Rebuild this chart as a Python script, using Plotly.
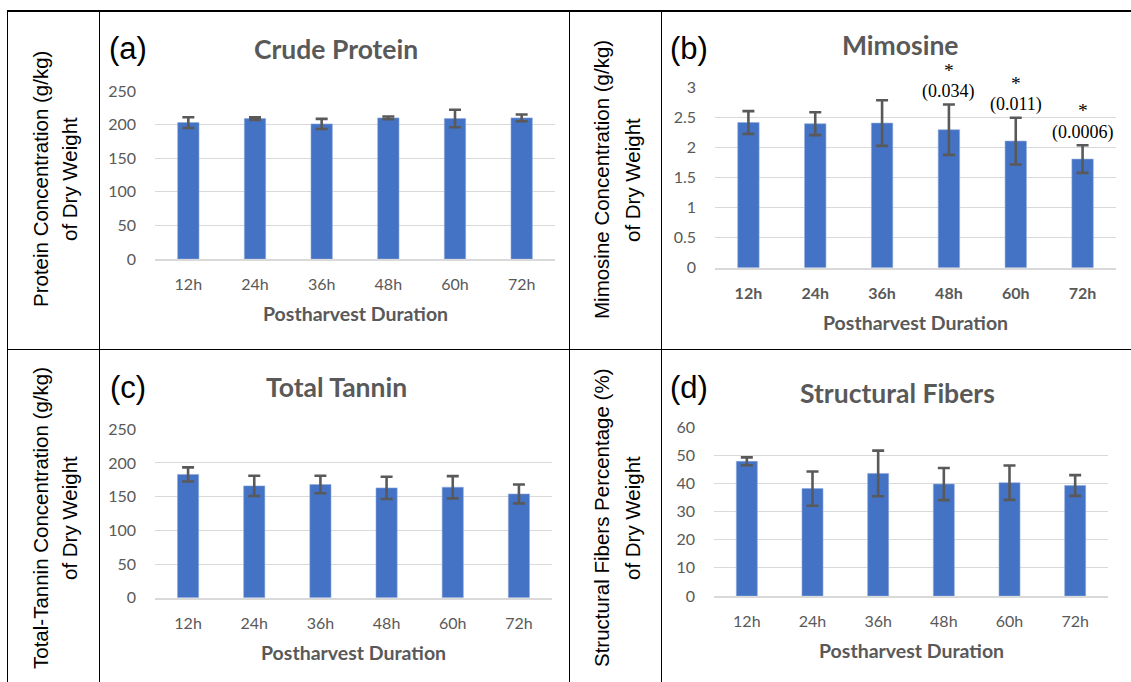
import plotly.graph_objects as go

W, H = 1131, 682

# ---- data -------------------------------------------------------------
durations = ["12h", "24h", "36h", "48h", "60h", "72h"]

protein = [203, 209, 201, 210, 209, 210]
protein_sd = [8, 2, 7.5, 2, 13, 5]

mimosine = [2.42, 2.40, 2.41, 2.30, 2.11, 1.81]
mimosine_sd = [0.19, 0.19, 0.38, 0.42, 0.39, 0.23]
mimosine_p = [None, None, None, "0.034", "0.011", "0.0006"]

tannin = [183, 166, 168, 163, 164, 154]
tannin_sd = [10.5, 15, 13, 16.5, 16.5, 14]

fibers = [47.9, 38.2, 43.6, 39.8, 40.3, 39.3]
fibers_sd = [1.4, 6.1, 8.1, 5.7, 6.1, 3.7]

# ---- styling ----------------------------------------------------------
BAR = "#4472C4"
GREY = "#595959"
GRID = "#D9D9D9"
SANS = "Lato"
ARIAL = "Liberation Sans"
SERIF = "Liberation Serif"


def px_x(v):
    return v / W


def px_y(v):
    return 1 - v / H


panels = [
    dict(vals=protein, sd=protein_sd, xd=(155, 555), yd=(91, 259), rng=250, dt=50, bold=False,
         title="Crude Protein", tpos=(336, 49), letter="(a)", lpos=(107, 48),
         ylab=("Protein Concentration (g/kg)", "of Dry Weight"), ypos=(40, 69, 179),
         xt=313),
    dict(vals=mimosine, sd=mimosine_sd, xd=(715, 1116), yd=(87.7, 267.7), rng=3, dt=0.5, bold=True,
         title="Mimosine", tpos=(900, 45), letter="(b)", lpos=(668, 48),
         ylab=("Mimosine Concentration (g/kg)", "of Dry Weight"), ypos=(601, 632, 180),
         xt=322),
    dict(vals=tannin, sd=tannin_sd, xd=(155, 552), yd=(429.3, 597.7), rng=250, dt=50, bold=False,
         title="Total Tannin", tpos=(336, 387), letter="(c)", lpos=(108, 387),
         ylab=("Total-Tannin Concentration (g/kg)", "of Dry Weight"), ypos=(40, 69, 518),
         xt=652),
    dict(vals=fibers, sd=fibers_sd, xd=(714, 1108), yd=(427.3, 596), rng=60, dt=10, bold=False,
         title="Structural Fibers", tpos=(897, 393), letter="(d)", lpos=(668, 387),
         ylab=("Structural Fibers Percentage (%)", "of Dry Weight"), ypos=(601, 632, 518),
         xt=650),
]

fig = go.Figure()
annotations = []

for i, p in enumerate(panels, start=1):
    xa = "x" if i == 1 else f"x{i}"
    ya = "y" if i == 1 else f"y{i}"
    fig.add_trace(go.Bar(
        x=durations, y=p["vals"], xaxis=xa, yaxis=ya, width=0.32,
        marker=dict(color=BAR, line=dict(color="#8FAADC", width=0.6)),
        error_y=dict(type="data", array=p["sd"], visible=True,
                     color=GREY, thickness=2.6, width=6),
        showlegend=False, hoverinfo="skip",
    ))

    tickfont = dict(family=SANS, size=16, color=GREY)
    xfont = dict(tickfont)
    if p["bold"]:
        xfont["weight"] = "bold"
    fig.layout[f"xaxis{'' if i == 1 else i}"] = dict(
        domain=[px_x(p["xd"][0]), px_x(p["xd"][1])], anchor=ya, automargin=False,
        type="category", showgrid=False, showline=True, linecolor=GRID, linewidth=1.5,
        ticks="", tickfont=xfont, ticklabelstandoff=10, fixedrange=True,
    )
    fig.layout[f"yaxis{'' if i == 1 else i}"] = dict(
        domain=[px_y(p["yd"][1]), px_y(p["yd"][0])], anchor=xa, automargin=False,
        range=[0, p["rng"]], dtick=p["dt"], tick0=0,
        showgrid=True, gridcolor=GRID, gridwidth=1, zeroline=False, showline=False,
        ticks="", tickfont=tickfont, ticklabelstandoff=18, fixedrange=True,
    )

    # chart title
    annotations.append(dict(
        text=p["title"], x=px_x(p["tpos"][0]), y=px_y(p["tpos"][1]),
        xref="paper", yref="paper", xanchor="center", yanchor="middle", showarrow=False,
        font=dict(family=SANS, size=26.5, color=GREY, weight="bold"),
    ))
    # panel letter
    annotations.append(dict(
        text=p["letter"], x=px_x(p["lpos"][0]), y=px_y(p["lpos"][1]),
        xref="paper", yref="paper", xanchor="left", yanchor="middle", showarrow=False,
        font=dict(family=ARIAL, size=31, color="#000000"),
    ))
    # x-axis title
    annotations.append(dict(
        text="Postharvest Duration", x=(px_x(p["xd"][0]) + px_x(p["xd"][1])) / 2,
        y=px_y(p["xt"]), xref="paper", yref="paper", xanchor="center", yanchor="middle",
        showarrow=False, font=dict(family=SANS, size=19.5, color=GREY, weight="bold"),
    ))
    # y-axis title (two rotated lines in the side column)
    for line, xp in zip(p["ylab"], p["ypos"][:2]):
        annotations.append(dict(
            text=line, x=px_x(xp), y=px_y(p["ypos"][2]), textangle=-90,
            xref="paper", yref="paper", xanchor="center", yanchor="middle", showarrow=False,
            font=dict(family=ARIAL, size=20.5, color="#000000"),
        ))

# significance marks above the mimosine error bars: p-value, with an asterisk above it
for cat, val, sd, pv in zip(durations, mimosine, mimosine_sd, mimosine_p):
    if pv is None:
        continue
    annotations.append(dict(
        text=f"({pv})", x=cat, y=val + sd, xref="x2", yref="y2",
        xanchor="center", yanchor="middle", yshift=13, showarrow=False,
        font=dict(family=SERIF, size=18, color="#000000"),
    ))
    annotations.append(dict(
        text="*", x=cat, y=val + sd, xref="x2", yref="y2",
        xanchor="center", yanchor="middle", yshift=34.5, showarrow=False,
        font=dict(family=SERIF, size=19.5, color="#000000"),
    ))

# table borders
shapes = []


def seg(x0, y0, x1, y1, w=1):
    shapes.append(dict(type="line", xref="paper", yref="paper",
                       x0=px_x(x0), y0=px_y(y0), x1=px_x(x1), y1=px_y(y1),
                       line=dict(color="#000000", width=w)))


seg(7, 11, W, 11, 2)
seg(7.5, 11, 7.5, H)
seg(99.5, 11, 99.5, H)
seg(569.5, 11, 569.5, H)
seg(661.5, 11, 661.5, H)
seg(7.5, 349.5, W, 349.5)

fig.update_layout(
    width=W, height=H, margin=dict(l=0, r=0, t=0, b=0, autoexpand=False),
    paper_bgcolor="#FFFFFF", plot_bgcolor="#FFFFFF",
    annotations=annotations, shapes=shapes, bargap=0.68,
)

fig.write_html("out.html", config={"displayModeBar": False})
